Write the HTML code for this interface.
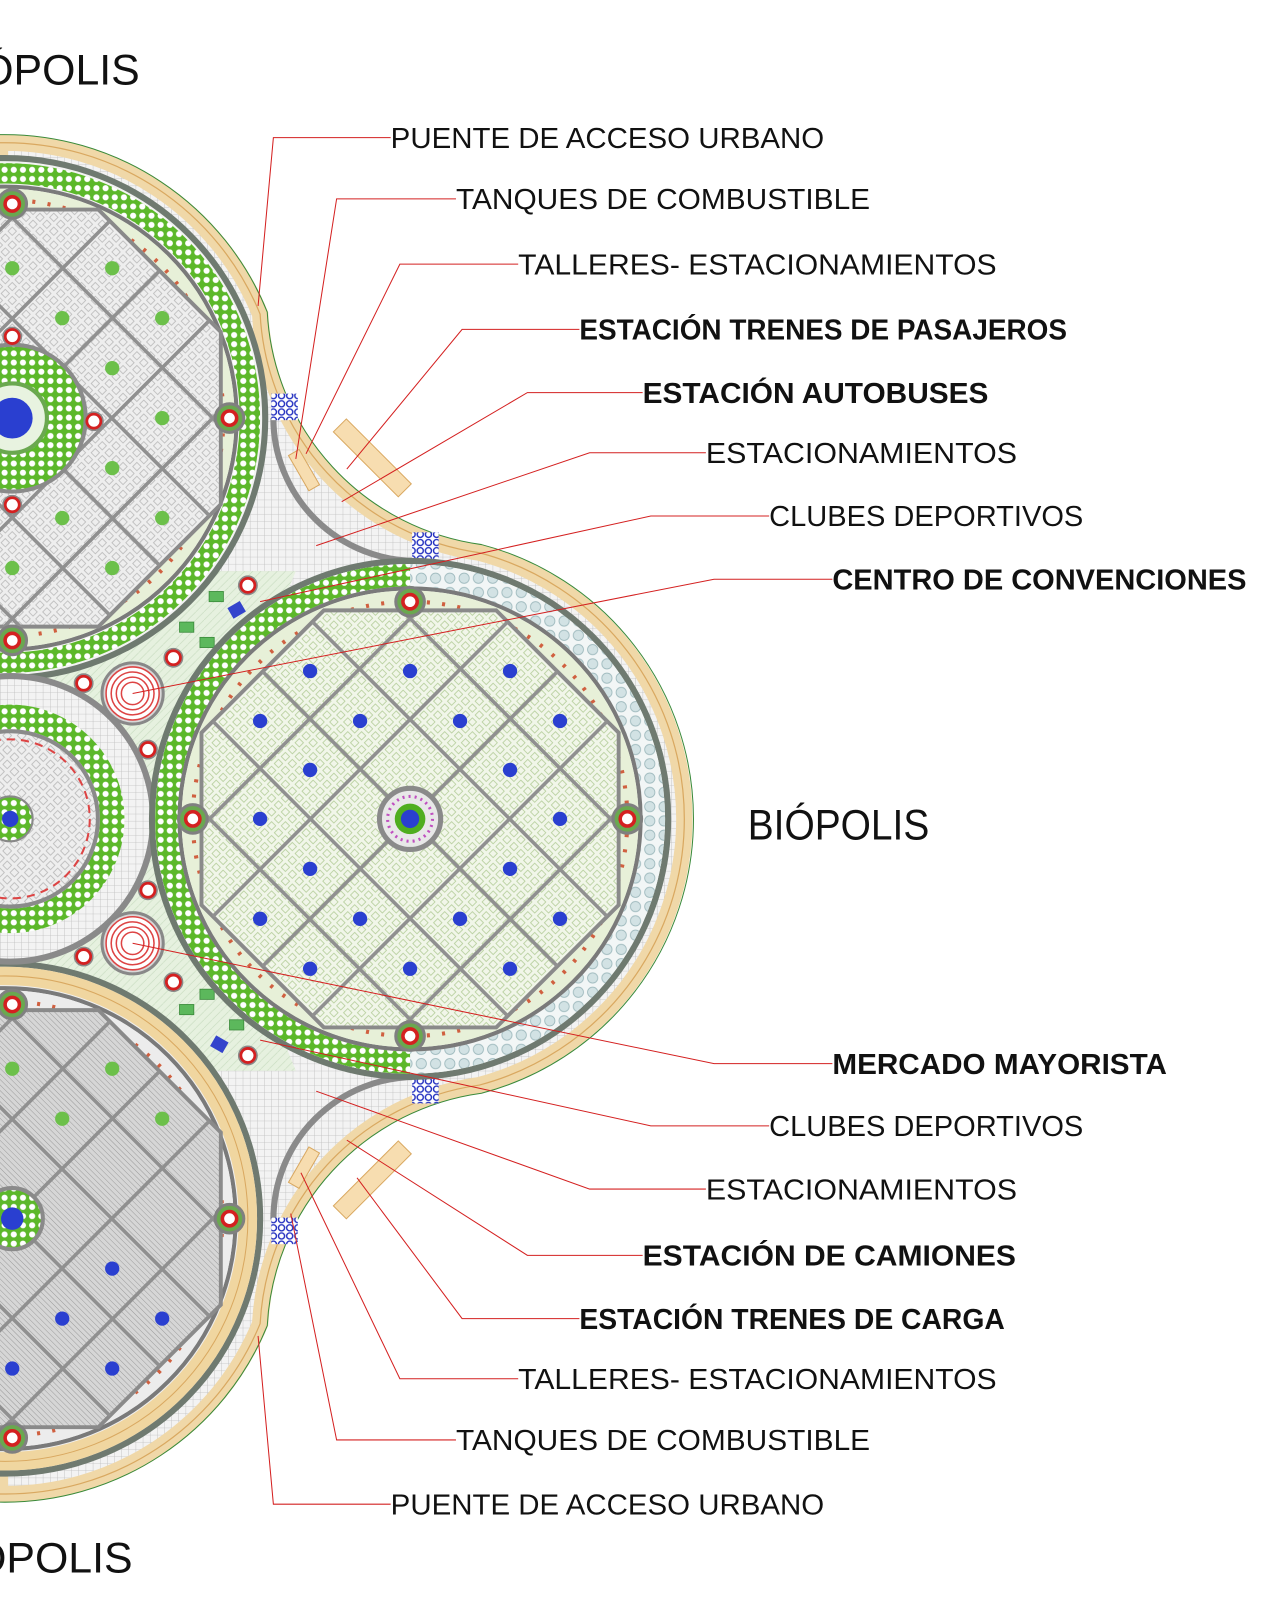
<!DOCTYPE html>
<html><head><meta charset="utf-8"><style>
html,body{margin:0;padding:0;background:#fff;overflow:hidden;width:1271px;height:1598px;}
svg{display:block;position:absolute;left:0;top:0;}
text{font-family:"Liberation Sans",sans-serif;fill:#111;}
.b{font-weight:bold;}
</style></head><body>
<svg width="1271" height="1598" viewBox="0 0 1246 1567" preserveAspectRatio="none" xmlns="http://www.w3.org/2000/svg">
<defs>
<pattern id="hg" width="7" height="7" patternUnits="userSpaceOnUse"><rect width="7" height="7" fill="#f3f3f3"/><path d="M0 0H7M0 0V7" stroke="#bdbdbd" stroke-width="0.8"/></pattern>
<pattern id="gd" width="10" height="10" patternUnits="userSpaceOnUse" patternTransform="rotate(45)"><rect width="10" height="10" fill="#f1f6e9"/><rect x="2" y="2" width="6" height="6" fill="none" stroke="#b3cc98" stroke-width="0.8"/></pattern>
<pattern id="gg" width="10" height="10" patternUnits="userSpaceOnUse" patternTransform="rotate(45)"><rect width="10" height="10" fill="#eeeeee"/><rect x="2" y="2" width="6" height="6" fill="none" stroke="#b8b8b8" stroke-width="0.8"/></pattern>
<pattern id="gb" width="9" height="9" patternUnits="userSpaceOnUse"><rect width="9" height="9" fill="#5cb82a"/><circle cx="4.5" cy="4.5" r="3" fill="#fff"/></pattern>
<pattern id="bc" width="14" height="14" patternUnits="userSpaceOnUse"><rect width="14" height="14" fill="#f2f6f6"/><circle cx="7" cy="7" r="5" fill="#d2e2e4" stroke="#9cb8bc" stroke-width="0.8"/></pattern>
<pattern id="dh" width="4" height="4" patternUnits="userSpaceOnUse" patternTransform="rotate(45)"><rect width="4" height="4" fill="#d6d6d6"/><path d="M0 0H4" stroke="#9a9a9a" stroke-width="1"/></pattern>
<pattern id="pg" width="8" height="8" patternUnits="userSpaceOnUse"><rect width="8" height="8" fill="#e6f1df"/><path d="M0 8L8 0" stroke="#c8dcc0" stroke-width="0.6"/></pattern>
<pattern id="bl" width="8" height="8" patternUnits="userSpaceOnUse"><rect width="8" height="8" fill="#fff"/><circle cx="4" cy="4" r="3" fill="none" stroke="#2330c0" stroke-width="1.4"/></pattern>
<path id="oct" d="M88,-213L213,-88L213,88L88,213L-88,213L-213,88L-213,-88L-88,-213Z"/>
<clipPath id="cR"><use href="#oct" transform="translate(402,803) scale(0.96)"/></clipPath>
<clipPath id="cTL"><use href="#oct" transform="translate(12,410) scale(0.96)"/></clipPath>
<clipPath id="cBL"><use href="#oct" transform="translate(12,1195) scale(0.96)"/></clipPath>
<g id="grid"><path d="M-485,-300V300M-416,-300V300M-346,-300V300M-277,-300V300M-208,-300V300M-139,-300V300M-69,-300V300M0,-300V300M69,-300V300M139,-300V300M208,-300V300M277,-300V300M346,-300V300M416,-300V300M485,-300V300M-300,-485H300M-300,-416H300M-300,-346H300M-300,-277H300M-300,-208H300M-300,-139H300M-300,-69H300M-300,0H300M-300,69H300M-300,139H300M-300,208H300M-300,277H300M-300,346H300M-300,416H300M-300,485H300" stroke="#909090" stroke-width="3.5" fill="none"/></g>
<g id="node"><circle r="14" fill="#6aa84f" stroke="#808080" stroke-width="3"/><circle r="7" fill="#fff" stroke="#d42020" stroke-width="3.5"/></g>
<g id="rn"><circle r="7" fill="#fff" stroke="#d42020" stroke-width="3"/><circle r="9" fill="none" stroke="#888" stroke-width="1.5"/></g>
<g id="tgt"><circle r="30" fill="#d8d8d8" stroke="#888" stroke-width="3"/><circle r="26" fill="#fff" stroke="#d44" stroke-width="1.5"/><circle r="21" fill="none" stroke="#d44" stroke-width="1.5"/><circle r="16" fill="none" stroke="#d44" stroke-width="1.5"/><circle r="11" fill="none" stroke="#d44" stroke-width="1.5"/></g>
</defs>

<path d="M0,140 A270,270 0 0 1 255,308 A250,250 0 0 0 470,542 A270,270 0 0 1 470,1064 A250,250 0 0 0 255,1298 A270,270 0 0 1 0,1465 Z" fill="url(#hg)" stroke="#f0d8a8" stroke-width="16"/>
<path d="M0,140 A270,270 0 0 1 255,308 A250,250 0 0 0 470,542 A270,270 0 0 1 470,1064 A250,250 0 0 0 255,1298 A270,270 0 0 1 0,1465" fill="none" stroke="#d9a860" stroke-width="1.2"/>
<path d="M0,132 A278,278 0 0 1 262,306 A243,243 0 0 0 472,534 A278,278 0 0 1 472,1072 A243,243 0 0 0 262,1300 A278,278 0 0 1 0,1473" fill="none" stroke="#3a8a3a" stroke-width="1"/>

<path d="M0,600 L150,560 L290,560 L190,803 L290,1050 L150,1050 L0,1010Z" fill="url(#pg)"/>
<path d="M268,410 A140,140 0 0 0 408,550" fill="none" stroke="#8a8a8a" stroke-width="6"/>
<path d="M268,1196 A140,140 0 0 1 408,1056" fill="none" stroke="#8a8a8a" stroke-width="6"/>
<rect x="266" y="386" width="26" height="26" fill="url(#bl)"/>
<rect x="404" y="522" width="26" height="26" fill="url(#bl)"/>
<rect x="404" y="1056" width="26" height="26" fill="url(#bl)"/>
<rect x="266" y="1194" width="26" height="26" fill="url(#bl)"/>
<g fill="#f7ddb0" stroke="#d9a860" stroke-width="1">
<rect x="320" y="440" width="90" height="18" transform="rotate(45 365 449)"/>
<rect x="278" y="455" width="40" height="12" transform="rotate(60 298 461)"/>
<rect x="320" y="1148" width="90" height="18" transform="rotate(-45 365 1157)"/>
<rect x="278" y="1139" width="40" height="12" transform="rotate(-60 298 1145)"/>
</g>

<!-- TOP-LEFT -->
<circle cx="5" cy="410" r="255" fill="#f3f3f3" stroke="#6f7a70" stroke-width="6"/>
<circle cx="5" cy="410" r="240" fill="none" stroke="url(#gb)" stroke-width="20"/>
<circle cx="5" cy="410" r="227" fill="none" stroke="#7a7a7a" stroke-width="4"/>
<circle cx="5" cy="410" r="214" fill="none" stroke="#e7f0d8" stroke-width="22"/>
<circle cx="5" cy="410" r="214" fill="none" stroke="#d06040" stroke-width="4" stroke-dasharray="3 12"/>
<use href="#oct" transform="translate(12,410) scale(0.96)" fill="url(#gg)" stroke="#8a8a8a" stroke-width="4"/>
<g clip-path="url(#cTL)"><use href="#grid" transform="translate(12,410) rotate(45)"/></g>
<g fill="#6cc04a">
<circle cx="12" cy="263" r="7"/><circle cx="12" cy="557" r="7"/><circle cx="61" cy="312" r="7"/><circle cx="61" cy="508" r="7"/><circle cx="110" cy="361" r="7"/><circle cx="110" cy="459" r="7"/><circle cx="110" cy="263" r="7"/><circle cx="110" cy="557" r="7"/><circle cx="159" cy="410" r="7"/><circle cx="159" cy="312" r="7"/><circle cx="159" cy="508" r="7"/>
</g>
<circle cx="12" cy="410" r="72" fill="url(#gb)" stroke="#8a8a8a" stroke-width="4"/>
<circle cx="12" cy="410" r="34" fill="#e8f3e0" stroke="#6aa84f" stroke-width="4"/>
<circle cx="12" cy="410" r="20" fill="#2a3fd0"/>
<use href="#rn" x="12" y="330"/><use href="#rn" x="92" y="413"/><use href="#rn" x="12" y="495"/>
<use href="#node" x="12" y="200"/><use href="#node" x="225" y="410"/><use href="#node" x="12" y="628"/>

<!-- BOTTOM-LEFT -->
<circle cx="5" cy="1195" r="250" fill="#f0f0f0" stroke="#6f7a70" stroke-width="6"/>
<circle cx="5" cy="1195" r="238" fill="none" stroke="#f0d6a0" stroke-width="18"/>
<circle cx="5" cy="1195" r="238" fill="none" stroke="#d9a860" stroke-width="1"/>
<circle cx="5" cy="1195" r="226" fill="none" stroke="#7a7a7a" stroke-width="4"/>
<circle cx="5" cy="1195" r="213" fill="none" stroke="#ececec" stroke-width="22"/>
<circle cx="5" cy="1195" r="213" fill="none" stroke="#d06040" stroke-width="4" stroke-dasharray="3 12"/>
<use href="#oct" transform="translate(12,1195) scale(0.96)" fill="url(#dh)" stroke="#8a8a8a" stroke-width="4"/>
<g clip-path="url(#cBL)"><use href="#grid" transform="translate(12,1195) rotate(45)"/></g>
<g fill="#6cc04a"><circle cx="110" cy="1048" r="7"/><circle cx="61" cy="1097" r="7"/><circle cx="159" cy="1097" r="7"/><circle cx="12" cy="1048" r="7"/></g>
<g fill="#2a3fd0"><circle cx="110" cy="1244" r="7"/><circle cx="61" cy="1293" r="7"/><circle cx="159" cy="1293" r="7"/><circle cx="110" cy="1342" r="7"/><circle cx="12" cy="1342" r="7"/></g>
<circle cx="12" cy="1195" r="30" fill="url(#gb)" stroke="#8a8a8a" stroke-width="4"/>
<circle cx="12" cy="1195" r="11" fill="#2a3fd0"/>
<use href="#node" x="12" y="985"/><use href="#node" x="225" y="1195"/><use href="#node" x="12" y="1410"/>

<!-- MIDDLE-LEFT -->
<circle cx="10" cy="803" r="140" fill="url(#hg)" stroke="#8a8a8a" stroke-width="6"/>
<circle cx="10" cy="803" r="100" fill="none" stroke="url(#gb)" stroke-width="24"/>
<circle cx="10" cy="803" r="86" fill="url(#gg)" stroke="#8a8a8a" stroke-width="4"/>
<circle cx="10" cy="803" r="78" fill="none" stroke="#d44" stroke-width="2" stroke-dasharray="8 6"/>
<circle cx="10" cy="803" r="22" fill="url(#gb)" stroke="#888" stroke-width="2"/>
<circle cx="10" cy="803" r="8" fill="#2a3fd0"/>
<path d="M150,803H190" stroke="#8a8a8a" stroke-width="5"/>

<use href="#tgt" x="130" y="680"/><use href="#tgt" x="130" y="925"/>
<use href="#rn" x="82" y="670"/><use href="#rn" x="145" y="735"/><use href="#rn" x="243" y="574"/><use href="#rn" x="170" y="645"/>
<use href="#rn" x="82" y="938"/><use href="#rn" x="145" y="873"/><use href="#rn" x="243" y="1035"/><use href="#rn" x="170" y="963"/>
<g fill="#5cb85c" stroke="#3a8a3a" stroke-width="0.8">
<rect x="176" y="610" width="14" height="10"/><rect x="196" y="625" width="14" height="10"/><rect x="205" y="580" width="14" height="10"/>
<rect x="176" y="985" width="14" height="10"/><rect x="196" y="970" width="14" height="10"/><rect x="225" y="1000" width="14" height="10"/>
</g>
<rect x="225" y="592" width="14" height="12" fill="#3344cc" transform="rotate(-30 232 598)"/>
<rect x="208" y="1018" width="14" height="12" fill="#3344cc" transform="rotate(30 215 1024)"/>

<!-- RIGHT -->
<circle cx="402" cy="803" r="253" fill="#f6f9f2" stroke="#6f7a70" stroke-width="6"/>
<circle cx="402" cy="803" r="239" fill="none" stroke="url(#bc)" stroke-width="22"/>
<path d="M402,564 A239,239 0 0 0 402,1042" fill="none" stroke="url(#gb)" stroke-width="22"/>
<circle cx="402" cy="803" r="226" fill="none" stroke="#7a7a7a" stroke-width="4"/>
<circle cx="402" cy="803" r="213" fill="none" stroke="#e7f0d8" stroke-width="22"/>
<circle cx="402" cy="803" r="213" fill="none" stroke="#d06040" stroke-width="4" stroke-dasharray="3 12"/>
<use href="#oct" transform="translate(402,803) scale(0.96)" fill="url(#gd)" stroke="#8a8a8a" stroke-width="4"/>
<g clip-path="url(#cR)"><use href="#grid" transform="translate(402,803) rotate(45)"/></g>
<g fill="#2a3fd0">
<circle cx="304" cy="658" r="7"/><circle cx="402" cy="658" r="7"/><circle cx="500" cy="658" r="7"/>
<circle cx="255" cy="707" r="7"/><circle cx="353" cy="707" r="7"/><circle cx="451" cy="707" r="7"/><circle cx="549" cy="707" r="7"/>
<circle cx="304" cy="755" r="7"/><circle cx="500" cy="755" r="7"/>
<circle cx="255" cy="803" r="7"/><circle cx="549" cy="803" r="7"/>
<circle cx="304" cy="852" r="7"/><circle cx="500" cy="852" r="7"/>
<circle cx="255" cy="901" r="7"/><circle cx="353" cy="901" r="7"/><circle cx="451" cy="901" r="7"/><circle cx="549" cy="901" r="7"/>
<circle cx="304" cy="950" r="7"/><circle cx="402" cy="950" r="7"/><circle cx="500" cy="950" r="7"/>
</g>
<circle cx="402" cy="803" r="30" fill="#e8e8e8" stroke="#8a8a8a" stroke-width="5"/>
<circle cx="402" cy="803" r="22" fill="none" stroke="#c050c0" stroke-width="3" stroke-dasharray="2 4"/>
<circle cx="402" cy="803" r="15" fill="#4fae1f"/>
<circle cx="402" cy="803" r="9" fill="#2a3fd0"/>
<use href="#node" x="402" y="590"/><use href="#node" x="189" y="803"/><use href="#node" x="615" y="803"/><use href="#node" x="402" y="1016"/>

<g stroke="#d42020" stroke-width="1" fill="none">
<path d="M383,135H268L253,300"/>
<path d="M447,195H330L290,450"/>
<path d="M508,259H392L300,445"/>
<path d="M568,323H453L340,460"/>
<path d="M630,385H517L335,492"/>
<path d="M692,444H578L310,535"/>
<path d="M754,506H638L255,590"/>
<path d="M816,568H700L130,680"/>
<path d="M816,1043H700L130,925"/>
<path d="M754,1104H638L255,1020"/>
<path d="M692,1166H578L310,1070"/>
<path d="M630,1231H517L340,1118"/>
<path d="M568,1293H453L350,1155"/>
<path d="M508,1352H392L295,1150"/>
<path d="M447,1412H330L285,1190"/>
<path d="M383,1475H268L253,1310"/>
</g>

<g font-size="28">
<text x="383" y="145" textLength="425" lengthAdjust="spacingAndGlyphs">PUENTE DE ACCESO URBANO</text>
<text x="447" y="205" textLength="406" lengthAdjust="spacingAndGlyphs">TANQUES DE COMBUSTIBLE</text>
<text x="508" y="269" textLength="469" lengthAdjust="spacingAndGlyphs">TALLERES- ESTACIONAMIENTOS</text>
<text class="b" x="568" y="333" textLength="478" lengthAdjust="spacingAndGlyphs">ESTACIÓN TRENES DE PASAJEROS</text>
<text class="b" x="630" y="395" textLength="339" lengthAdjust="spacingAndGlyphs">ESTACIÓN AUTOBUSES</text>
<text x="692" y="454" textLength="305" lengthAdjust="spacingAndGlyphs">ESTACIONAMIENTOS</text>
<text x="754" y="516" textLength="308" lengthAdjust="spacingAndGlyphs">CLUBES DEPORTIVOS</text>
<text class="b" x="816" y="578" textLength="406" lengthAdjust="spacingAndGlyphs">CENTRO DE CONVENCIONES</text>
<text class="b" x="816" y="1053" textLength="328" lengthAdjust="spacingAndGlyphs">MERCADO MAYORISTA</text>
<text x="754" y="1114" textLength="308" lengthAdjust="spacingAndGlyphs">CLUBES DEPORTIVOS</text>
<text x="692" y="1176" textLength="305" lengthAdjust="spacingAndGlyphs">ESTACIONAMIENTOS</text>
<text class="b" x="630" y="1241" textLength="366" lengthAdjust="spacingAndGlyphs">ESTACIÓN DE CAMIONES</text>
<text class="b" x="568" y="1303" textLength="417" lengthAdjust="spacingAndGlyphs">ESTACIÓN TRENES DE CARGA</text>
<text x="508" y="1362" textLength="469" lengthAdjust="spacingAndGlyphs">TALLERES- ESTACIONAMIENTOS</text>
<text x="447" y="1422" textLength="406" lengthAdjust="spacingAndGlyphs">TANQUES DE COMBUSTIBLE</text>
<text x="383" y="1485" textLength="425" lengthAdjust="spacingAndGlyphs">PUENTE DE ACCESO URBANO</text>
</g>
<g font-size="42">
<text x="733" y="823" textLength="178" lengthAdjust="spacingAndGlyphs">BIÓPOLIS</text>
<text x="137" y="83" text-anchor="end">BIÓPOLIS</text>
<text x="130" y="1542" text-anchor="end">BIÓPOLIS</text>
</g>
</svg>
</body></html>
